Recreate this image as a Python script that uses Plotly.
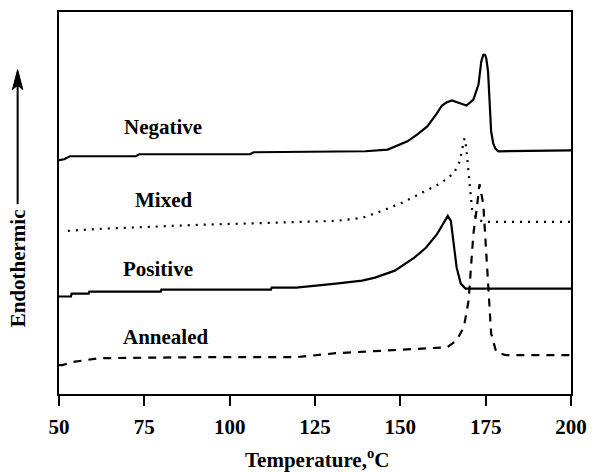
import plotly.graph_objects as go

# Temperature (deg C) and relative heat-flow (arbitrary, offset) for each trace
neg_T = [50, 51.5, 53.2, 72.5, 73.5, 106, 107, 139.7, 146.3, 149.2, 152.1, 155.0, 157.9,
         160.5, 162.2, 163.5, 165.1, 167.7, 169.4, 171.4, 172.9, 173.7, 174.3, 174.8,
         175.2, 175.7, 176.3, 176.6, 177.2, 177.8, 178.7, 200]
neg_H = [235, 236, 239, 239, 241, 241, 243, 244, 245.7, 250, 254, 261, 269,
         281, 290, 293, 295, 292, 290, 296, 311, 334, 341, 341,
         337, 324, 291, 264, 252, 247, 244, 245]

mix_T = [52.6, 61.8, 90.7, 119.5, 131.1, 138.8, 144.6, 150.4, 156.2, 161.9, 165.7,
         167.4, 168.3, 168.8, 169.3, 169.8, 170.4, 171.0, 172.3, 174.5, 200]
mix_H = [164, 166, 170, 173, 174, 177, 184, 192, 202, 212, 222,
         234, 249, 257, 248, 228, 205, 186, 176, 173, 173]

pos_T = [50, 53.5, 53.7, 58.7, 58.9, 79.8, 80.0, 112.1, 112.3, 119.5, 131.1, 138.8,
         142.6, 148.4, 154.1, 157.5, 160.8, 163.9, 164.8, 165.7, 166.5, 167.7, 169.1, 200]
pos_H = [98, 98, 101, 101, 103, 103, 105, 105, 107, 107, 111, 114,
         117, 124, 137, 147, 161, 179, 174, 151, 127, 111, 106, 106]

ann_T = [50, 51, 53.7, 61.8, 90.7, 119.5, 131.1, 148.4, 163.7, 166.5, 168.6, 170.0,
         170.9, 171.4, 172.3, 173.2, 174.3, 174.9, 175.2, 175.8, 176.3, 176.6, 178.1,
         181.0, 200]
ann_H = [29, 29, 32, 36, 37, 37, 41, 44, 47, 54, 67, 94,
         134, 161, 184, 211, 191, 159, 137, 111, 84, 61, 42,
         39, 39]

labels = ["Negative", "Mixed", "Positive", "Annealed"]
label_T = [80.6, 80.6, 79.1, 81.2]
label_H = [268, 195, 126, 57]

x_ticks = [50, 75, 100, 125, 150, 175, 200]

FONT = "Liberation Serif, Times New Roman, serif"

fig = go.Figure()
fig.add_trace(go.Scatter(x=neg_T, y=neg_H, mode="lines",
                         line=dict(color="black", width=2.2)))
fig.add_trace(go.Scatter(x=mix_T, y=mix_H, mode="lines",
                         line=dict(color="black", width=2.2, dash="2px,6px")))
fig.add_trace(go.Scatter(x=pos_T, y=pos_H, mode="lines",
                         line=dict(color="black", width=2.2)))
fig.add_trace(go.Scatter(x=ann_T, y=ann_H, mode="lines",
                         line=dict(color="black", width=2.2, dash="8px,7px")))

for txt, tx, ty in zip(labels, label_T, label_H):
    fig.add_annotation(x=tx, y=ty, xref="x", yref="y", text=txt, showarrow=False,
                       font=dict(family=FONT, size=21, color="black", weight="bold"))

# x-axis title
fig.add_annotation(x=0.504, y=-0.17, xref="paper", yref="paper",
                   text="Temperature,<sup>o</sup>C", showarrow=False,
                   xanchor="center", yanchor="middle",
                   font=dict(family=FONT, size=21, color="black", weight="bold"))
# y-axis title
fig.add_annotation(x=-0.0808, y=0.328, xref="paper", yref="paper",
                   text="Endothermic", showarrow=False, textangle=-90,
                   xanchor="center", yanchor="middle",
                   font=dict(family=FONT, size=21, color="black", weight="bold"))
# "Endothermic" arrow: shaft + head
fig.add_shape(type="line", xref="paper", yref="paper",
              x0=-0.0808, x1=-0.0808, y0=0.497, y1=0.81,
              line=dict(color="black", width=2))
fig.add_shape(type="path", xref="paper", yref="paper",
              path="M -0.0910,0.797 L -0.0808,0.849 L -0.0706,0.797 L -0.0808,0.808 Z",
              fillcolor="black", line=dict(color="black", width=1))

fig.update_layout(
    width=597, height=472, autosize=False,
    margin=dict(l=59, r=18, t=10, b=78),
    paper_bgcolor="white", plot_bgcolor="white",
    showlegend=False,
    font=dict(family=FONT, size=21, color="black", weight="bold"),
)
fig.update_xaxes(range=[50, 200], tickvals=x_ticks, ticktext=[str(v) for v in x_ticks],
                 ticks="outside", ticklen=10, tickwidth=2, tickcolor="black",
                 showline=True, linewidth=2, linecolor="black", mirror=True,
                 showgrid=False, zeroline=False, ticklabelstandoff=3,
                 ticklabeloverflow="allow",
                 tickfont=dict(family=FONT, size=21, color="black", weight="bold"))
fig.update_yaxes(range=[0, 384], showticklabels=False, ticks="",
                 showline=True, linewidth=2, linecolor="black", mirror=True,
                 showgrid=False, zeroline=False)

fig.write_html("out.html",
               config={"responsive": False, "displayModeBar": False},
               default_width="597px", default_height="472px",
               post_script="document.body.style.margin='0';document.body.style.overflow='hidden';")
